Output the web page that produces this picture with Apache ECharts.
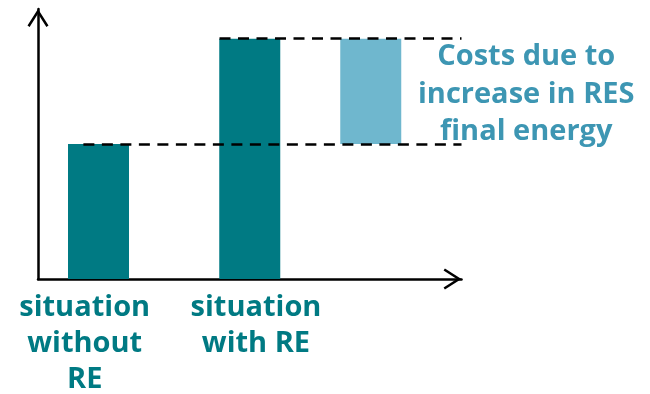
<!DOCTYPE html>
<html>
<head>
<meta charset="utf-8">
<script src="https://cdn.jsdelivr.net/npm/echarts@6/dist/echarts.min.js"></script>
<style>
  html, body { margin: 0; padding: 0; background: #fff; }
  #chart { width: 650px; height: 394px; }
</style>
</head>
<body>
<div id="chart"></div>
<script>
// Scenario bars: label, slot on the horizontal axis, total cost level
const categories = ['situation\nwithout\nRE', 'situation\nwith RE'];
const positions = [1, 3.5];
const totals = [50, 89];

// Extra cost bar (difference between the two scenarios)
const costLabel = 'Costs due to\nincrease in RES\nfinal energy';
const costPosition = 5.5;
const costBase = totals[0];
const costValue = totals[1] - totals[0];

// Axis ranges
const xRange = [0, 7];
const yRange = [0, 100];

// Where the scenario captions sit along the horizontal axis
const captionSlots = [0.772, 3.603];

// Open chevron used as the arrow head at the end of each axis (points up before rotation)
const arrowHead = 'path://M10.5,0 L21,16.5 L18.9,17.84 L10.5,4.64 L2.1,17.84 L0,16.5 Z';

const dark = '#007A83';
const light = '#6FB7CE';
const costText = '#3D96B3';
const font = 'Open Sans';

const axisLine = {
  show: true,
  symbol: ['none', arrowHead],
  symbolSize: [21, 18],
  symbolOffset: [0, -9],
  lineStyle: { color: '#000', width: 2.5 }
};

const chart = echarts.init(document.getElementById('chart'), null, { renderer: 'canvas' });

chart.setOption({
  animation: false,
  backgroundColor: '#fff',
  grid: { left: 38, right: 188.5, top: 9, bottom: 115, containLabel: false, outerBoundsMode: 'none' },
  xAxis: {
    type: 'value',
    min: xRange[0],
    max: xRange[1],
    axisLine: axisLine,
    axisTick: { show: false },
    splitLine: { show: false },
    axisLabel: {
      customValues: captionSlots,
      formatter: function (v) {
        const i = captionSlots.indexOf(v);
        return i >= 0 ? categories[i] : '';
      },
      margin: 11,
      color: dark,
      fontFamily: font,
      fontWeight: 'bold',
      fontSize: 29,
      lineHeight: 36,
      align: 'center'
    }
  },
  yAxis: {
    type: 'value',
    min: yRange[0],
    max: yRange[1],
    axisLine: axisLine,
    axisTick: { show: false },
    splitLine: { show: false },
    axisLabel: { show: false }
  },
  series: [
    {
      name: 'total',
      type: 'bar',
      barWidth: 61,
      barGap: '-100%',
      itemStyle: { color: dark },
      data: positions.map(function (p, i) { return [p, totals[i]]; }),
      markLine: {
        silent: true,
        symbol: ['none', 'none'],
        label: { show: false },
        lineStyle: { color: '#000', width: 2.5, type: [11, 7.5] },
        data: [
          [{ coord: [0.75, totals[0]] }, { coord: [xRange[1], totals[0]] }],
          [{ coord: [positions[1] - 0.5, totals[1]] }, { coord: [xRange[1], totals[1]] }]
        ]
      }
    },
    // The cost bar floats on top of an invisible base; value comes first in
    // each row so that the stack is taken along the vertical axis.
    {
      name: 'base',
      type: 'bar',
      stack: 'cost',
      barWidth: 61,
      barGap: '-100%',
      silent: true,
      encode: { x: 1, y: 0 },
      itemStyle: { color: 'rgba(0,0,0,0)' },
      data: [[costBase, costPosition]]
    },
    {
      name: 'cost',
      type: 'bar',
      stack: 'cost',
      barWidth: 61,
      barGap: '-100%',
      encode: { x: 1, y: 0 },
      itemStyle: { color: light },
      label: {
        show: true,
        position: 'right',
        distance: 125,
        align: 'center',
        offset: [0, 3],
        formatter: costLabel,
        color: costText,
        fontFamily: font,
        fontWeight: 'bold',
        fontSize: 29,
        lineHeight: 37.5
      },
      data: [[costValue, costPosition]]
    }
  ]
});
</script>
</body>
</html>
